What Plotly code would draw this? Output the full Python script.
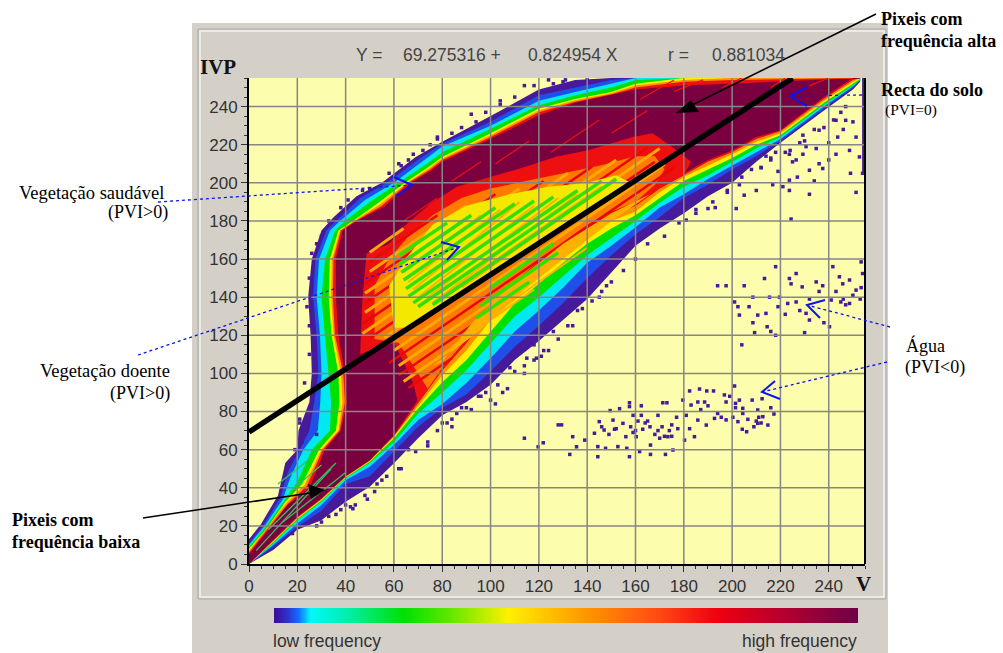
import plotly.graph_objects as go

W, H = 1003, 653
# plot area in window pixels
PL, PR, PT, PB = 249, 865, 78, 564

# ---- tick labels ----
tick_values = [0, 20, 40, 60, 80, 100, 120, 140, 160, 180, 200, 220, 240]

# ---- regression line ----
soil_v = [0, 225]
soil_ivp = [69.275, 254.9]

# ---- contour edges, upper-left side, one entry per anchor row ----
up_purple_v = [0, 5, 12, 15, 20, 20.5, 25, 26, 25.5, 24.5, 26, 30, 35, 44.5, 55, 69, 80, 100, 120, 135, 150, 160, 180, 200, 240, 253]
up_purple_i = [13, 21, 36, 53, 60, 70, 85, 100, 120, 140, 160, 175, 182, 193, 200, 213.6, 221.5, 235, 249, 254, 255, 255, 255, 255, 255, 255]
up_blue_v = [0, 6, 13, 16, 21, 25, 27, 28.7, 28, 26.5, 27.5, 32, 36.5, 46, 57, 71, 80, 100, 120, 135, 150, 160, 180, 200, 240, 253]
up_blue_i = [11, 20.5, 35, 48, 60, 70, 85, 100, 120, 140, 160, 175, 180.5, 192, 200, 213, 220.5, 232, 246, 250, 254, 255, 255, 255, 255, 255]
up_cyan_v = [0, 6.5, 14, 17, 22.5, 28.5, 29.5, 30, 29.4, 28, 29, 33.5, 37.7, 48, 60, 72, 80, 100, 120, 135, 150, 160, 180, 200, 240, 253]
up_cyan_i = [10, 20, 34, 45, 60, 70, 85, 100, 120, 140, 160, 175, 180, 191, 200, 211.5, 219, 230, 243, 247.7, 252, 255, 255, 255, 255, 255]
up_green_v = [0, 7, 14.5, 20, 26, 33.5, 34, 33, 31.4, 30, 31.5, 35.6, 39.7, 50, 62, 73, 80, 100, 120, 135, 150, 160, 180, 200, 240, 253]
up_green_i = [9, 19.5, 33, 43, 60, 70, 85, 100, 120, 140, 160, 175, 180, 190, 200, 209.5, 216, 228.5, 240.7, 246, 250, 254, 255, 255, 255, 255]
up_yellow_v = [0, 7.5, 15, 22, 29, 36, 37.5, 37, 34.2, 33, 33.5, 37, 43, 53, 64.5, 74, 80, 100, 120, 135, 150, 160, 180, 200, 240, 253]
up_yellow_i = [8, 19, 32.5, 42, 60, 70, 85, 100, 120, 140, 160, 175, 180, 189, 200, 208, 213.6, 226, 239, 244, 247.7, 252, 255, 255, 255, 255]
up_orange_v = [0, 7.5, 15.5, 23, 30, 37, 38.7, 38, 35, 34, 34.3, 37.7, 43.5, 54, 65.5, 74.5, 80, 100, 120, 135, 150, 160, 180, 200, 240, 253]
up_orange_i = [7, 18.8, 32, 41.5, 60, 70, 85, 100, 120, 140, 160, 175, 180, 188.5, 200, 207.5, 212.8, 225, 238, 243.3, 247, 251, 254, 255, 255, 255]
up_red_v = [0, 8, 16, 24, 30.5, 37.5, 39.7, 39, 35.6, 34.7, 35, 38, 44, 55, 66, 75, 80, 100, 120, 135, 150, 160, 180, 200, 240, 253]
up_red_i = [6, 18.5, 31.5, 41, 60, 70, 85, 100, 120, 140, 160, 175, 180, 188, 200, 207, 212, 224, 237, 242.5, 246.5, 250, 253, 254, 255, 255]
up_maroon_v = [0, 8, 16, 25, 31.5, 38, 40.5, 39.7, 37, 36, 36, 38.8, 44.5, 56, 67, 75.5, 80, 100, 120, 135, 150, 160, 180, 200, 240, 253]
up_maroon_i = [5, 18, 31, 40, 60, 70, 85, 100, 120, 140, 160, 175, 180, 187.5, 200, 206.5, 211, 223, 235.5, 242, 246, 249, 251, 252, 254, 255]

# ---- contour edges, lower-right side, by V column ----
lo_v = [0, 10, 20, 30, 40, 50, 60, 70, 80, 90, 100, 110, 120, 130, 140, 150, 160, 170, 180, 190, 200, 210, 220, 238, 250, 253]
lo_purple = [0, 7.3, 18, 23, 32.7, 40.5, 52.8, 66, 78, 85, 94, 107, 117, 128, 139, 153, 167, 176, 184, 193, 200, 211, 221, 238, 249, 253]
lo_blue = [0, 9, 19.6, 28, 42, 46, 59, 72, 82, 89, 101, 114, 125, 137, 150, 162, 173, 182, 192, 199, 207, 214, 222, 239, 250, 253.5]
lo_cyan = [0, 10, 21.3, 31, 44, 51, 62.4, 75.5, 84, 95, 108, 122, 133, 145, 158, 167, 176.7, 187, 194, 202, 209, 216, 223, 240, 250.5, 254]
lo_green = [0, 10.8, 23, 32.7, 45, 53, 64, 79, 90, 101.7, 116, 130, 140, 151, 162, 171, 180, 189.5, 198, 204, 211, 218, 224, 241, 251, 254]
lo_yellow = [0, 11.4, 23.6, 33.3, 45.4, 53.6, 66, 81.6, 95.4, 107, 122, 136.7, 147, 158, 168, 176, 183, 192, 201, 207, 213, 220, 225, 242, 252, 254.5]
lo_orange = [0, 11.8, 24, 33.8, 45.7, 54, 66.8, 83, 99, 112, 128, 141, 152, 163, 172, 180, 185, 195, 203, 209, 215, 221.5, 226, 243, 253, 255]
lo_red = [0, 12.2, 24.4, 34.1, 45.9, 54.3, 67.2, 84.5, 101.7, 116, 133, 146, 157, 167, 176, 183, 188, 197, 204, 211, 216, 223, 227, 244, 254, 255]
lo_maroon = [0, 12.6, 24.8, 34.4, 46, 54.5, 67.6, 86, 105, 120, 138, 151, 162, 172, 181, 188, 193, 200, 205, 212, 217, 224, 227.6, 245, 255, 255]

# ---- speckled interior (striped region between the two fronts) ----
core_red_v = [46, 47, 48.7, 58, 64, 75, 86, 100, 113.5, 127, 140, 159, 167, 175, 183, 180, 170, 160, 150, 140, 130, 120, 110, 100, 90, 80, 70, 68, 64, 60, 52]
core_red_i = [110, 140, 163, 168, 177, 189, 198, 203, 208, 213.7, 217, 224, 226, 219, 211, 204, 197, 188, 183, 176, 167, 157, 146, 133, 116, 101.7, 84.5, 95, 106, 116, 113]
core_orange_v = [52, 52, 58, 66, 76, 88, 100, 115, 130, 145, 160, 168, 172, 168, 160, 150, 140, 130, 120, 110, 100, 90, 80, 74, 68, 62]
core_orange_i = [118, 146, 160, 172, 183, 192, 197, 201, 205, 209, 214, 214, 207, 199, 190, 185, 178, 169, 159, 148, 135, 118, 103, 92, 104, 116]
core_yellow_v = [60, 58, 66, 76, 90, 108, 124, 140, 152, 158, 150, 132, 112, 92, 76, 66]
core_yellow_i = [124, 146, 162, 178, 188, 194, 198, 200, 204, 200, 194, 180, 162, 147, 133, 124]
low_yellow_v = [76, 95, 115, 130, 148, 166, 150, 130, 110, 92, 80]
low_yellow_i = [104, 122, 145, 160, 178, 194, 184, 168, 148, 126, 106]

orange_x0 = [50, 50, 48, 48, 47, 56, 60, 62, 64]
orange_y0 = [163.5, 153.5, 142, 132, 121, 118.7, 112, 104, 95.7]
orange_x1 = [64, 90, 112, 132, 152, 170, 172, 108, 92]
orange_y1 = [176, 188, 197, 205, 212, 218, 209.6, 144, 120]

red_x0 = [50, 48, 48, 47, 50, 70, 58, 62, 66]
red_y0 = [158.5, 147, 137, 126, 118.5, 126, 105.5, 99, 92.4]
red_x1 = [78, 102, 122, 142, 165, 168, 176, 100, 84]
red_y1 = [183, 194, 201, 208.5, 218.5, 211, 208, 132, 108]

green_x0 = [62, 62, 63, 64, 65, 66, 68, 70, 76, 100, 96, 94]
green_y0 = [162, 157, 153, 149, 144.5, 140.4, 137, 135, 136, 145, 135.5, 129]
green_x1 = [82, 92, 102, 110, 118, 126, 136, 146, 152, 126, 128, 116]
green_y1 = [179, 183, 187, 189, 190.5, 192.6, 196, 201, 202, 168, 163.4, 148]

amber_x0 = [63, 64, 66, 68, 70, 74, 76, 82, 88, 84, 100, 116]
amber_y0 = [157, 153, 148, 144, 140, 140, 137, 142, 145, 114, 130, 152]
amber_x1 = [88, 96, 104, 112, 118, 128, 136, 146, 150, 118, 140, 158]
amber_y1 = [179, 183, 186, 190, 188, 192, 194, 198, 200, 144, 166, 188]

stray_x0 = [64, 84, 102, 125, 150, 162, 176, 196, 216, 232]
stray_y0 = [180, 201, 210, 216, 226, 244, 248, 250, 250, 251]
stray_x1 = [78, 96, 116, 145, 165, 176, 188, 204, 222, 240]
stray_y1 = [192, 211, 222, 233, 238, 254, 254, 255, 255, 255]

lowline_x0 = [3, 8, 14, 17, 12]
lowline_y0 = [7, 18, 22, 38, 42]
lowline_x1 = [34, 36, 40, 30, 26]
lowline_y1 = [50, 53, 48, 52, 56]

# ---- isolated low-frequency pixels ----
water_low_v = [182.4, 186.5, 189.5, 192.3, 201, 196.8, 199, 197.5, 203, 208.3, 212.4, 216, 210.6, 204.4, 201.4, 201.4, 188.6, 185.8, 183, 179.6,
               173, 171.3, 162.4, 157.5, 157.5, 149.5, 153.4, 159, 162.4, 169.3, 177, 181, 195.5, 200.3, 204.4, 206.5, 210.6, 212.7, 217.3, 214.8,
               204.2, 206, 202.4, 197.5, 192.7, 189.3, 185.8, 182.4, 177.5, 173.4, 169.3, 163, 160.3, 154.8, 150.7, 145, 143, 147, 151.3, 156,
               144.4, 147.6, 152.7, 156.4, 166.2, 175.5, 172.4, 166.2, 157.5, 144.4, 161.7, 180.3, 184.4, 132.8, 121.8, 119.7, 134, 139, 135.6, 114,
               128, 129.4, 164, 166, 168, 171, 174, 175, 158, 160, 161, 152, 149, 146, 187, 190, 194, 172, 170, 165, 159, 210, 212, 211, 209, 175]
water_low_i = [90.8, 91.8, 90.8, 90.8, 93.4, 88.7, 88, 85, 86, 86, 86.7, 82, 80.8, 81.7, 84.3, 82, 85, 85, 83.4, 86,
               84.6, 84.6, 83, 84.6, 82.6, 80.5, 81.5, 78, 78, 78, 77, 78, 77, 77, 79, 75.9, 73.8, 77.3, 78.7, 72.9,
               70.7, 69.4, 74.7, 75.6, 76.4, 72.9, 75.5, 71, 71, 66.8, 70, 70.7, 66.8, 73.8, 75.5, 74.7, 68.6, 70.3, 70.7, 66.8,
               61.6, 60.7, 61.6, 60.7, 62.4, 59.8, 57.5, 57.5, 56.3, 56.3, 59, 65, 66.8, 57.5, 63.6, 61.5, 66.8, 65, 61.5, 66,
               73, 73, 74, 72, 68, 72, 70, 67, 72, 70, 75, 71, 68, 72, 81, 83, 79, 67, 66, 75, 69, 75, 74, 77, 72, 73]
water_up_v = [223.7, 224.4, 229, 226.5, 234.8, 237.5, 241.7, 244.4, 245.8, 248.6, 253.4, 254, 253.4, 245, 248.6, 251.3, 218, 213.4, 205, 197.5,
              208.6, 219.6, 226.5, 215.5, 223, 201, 219, 214, 210.6, 207, 202.4, 203, 230.6, 241, 204, 208.6, 214.5, 216, 230, 238,
              240.3, 232, 209.3, 218, 194, 246, 250, 253, 247, 243, 232, 236, 228, 222]
water_up_i = [149.8, 147, 145.4, 152.4, 148, 146, 156, 150.7, 147, 149, 158.5, 152.4, 145, 137.5, 136.7, 143.7, 156, 149.8, 146, 146,
              140, 140, 137.5, 140, 136.7, 137.5, 135, 131.5, 130.6, 135, 135, 130.6, 131.5, 138.5, 115, 126.6, 124.5, 122, 121.4, 126.6,
              124.5, 128, 121.4, 120, 146, 139, 141, 139, 136, 143, 139, 143, 133, 131]
noise_v = [229.3, 236, 243.7, 251.3, 243, 247, 223.7, 226.5, 229.3, 230.6, 234.8, 236, 240, 243, 248.6, 252.7, 254, 249, 237.5, 232,
           223.7, 225, 221, 216.8, 210, 205, 223.7, 232, 251.3, 201.7, 190, 185, 181, 224.4, 212, 216, 219, 227, 234, 240,
           246, 250, 245, 238, 230, 224, 218, 214, 208, 203, 198, 193, 150, 146, 142, 138, 134, 128, 124, 121,
           118, 114, 111, 108, 105, 103, 100, 96, 92, 88, 84, 80, 107, 102, 114, 119, 84, 78, 74, 69, 63, 57, 53, 49,
           43, 30, 33, 38, 44, 24, 21, 22, 19, 28, 62, 68, 78, 92, 104, 114, 124, 130, 40, 52,
           28, 30, 26, 25, 24, 25, 25, 23, 21, 33, 38, 41, 47, 50, 58, 63, 66, 72, 75, 78, 84, 88, 94, 98, 104, 110, 112, 118, 126, 131, 140,
           98, 95, 90, 86, 82, 74, 66, 62, 55, 48, 42, 36, 28, 18, 110, 115, 122, 118, 126, 132, 136, 145, 148, 155, 160, 165, 172, 178, 185, 192, 198, 204, 212, 216, 222, 228, 234, 242, 247]
noise_i = [225, 227.6, 224, 224, 232.8, 232.8, 215, 212, 215, 219, 218, 210, 212, 215, 217, 213.6, 205, 205, 207.5, 206.6,
           201.4, 211, 198, 199, 196, 193.5, 196, 194, 195, 186.5, 186.5, 184, 180.4, 181, 208, 212, 206, 203, 201, 221,
           228, 232, 237, 229, 222, 217, 216, 214, 207, 199, 195, 187, 148, 143, 138, 134, 125, 118, 112, 109,
           107, 100, 110, 103, 90, 94, 86, 88, 81, 82, 76, 74, 92, 84, 104, 108, 72, 70, 62, 59, 50, 46, 42, 34,
           29, 22, 25, 28.5, 31, 72, 76, 64, 60, 68, 210, 215, 224, 236, 243, 251, 254, 253, 31, 38,
           168, 172, 163, 150, 135, 125, 110, 95, 74, 180, 187, 191, 196, 197, 205, 209, 212, 217, 220, 223, 226, 229, 232, 237, 241, 245, 242, 251, 252, 254, 254,
           90, 88, 82, 79, 74, 64, 60, 50, 44, 36, 30, 26, 20, 16, 101, 108, 112, 115, 122, 125, 133, 140, 146, 154, 160, 168, 172, 179, 186, 190, 196, 203, 208, 213, 216, 221, 228, 233, 240]
edge_column_v = [253.8, 255, 255, 253.8]
edge_column_i = [205, 205, 255, 255]

# ---- colour bar levels ----
bar_levels = list(range(256))

C_BG = "#fdfdae"
C_PANEL = "#d4d0c8"
C_PURPLE = "#471a9c"
C_BLUE = "#1f4fe8"
C_CYAN = "#00e8f0"
C_GREEN = "#00e000"
C_YELLOW = "#ffee00"
C_ORANGE = "#ff9000"
C_RED = "#ee1010"
C_MAROON = "#7a0040"
C_GRID = "#868686"


def xp(px):
    return px / W


def yp(py):
    return 1 - py / H


fig = go.Figure()


def polygon(vs, ivs, color):
    fig.add_trace(go.Scatter(x=vs, y=ivs, mode="lines", fill="toself", fillcolor=color,
                             line=dict(width=0, color=color), hoverinfo="skip", showlegend=False))


def band(up_v, up_i, lo_i, color):
    polygon(list(up_v) + lo_v[::-1], list(up_i) + lo_i[::-1], color)


def segments(x0, y0, x1, y1, color, width):
    xs, ys = [], []
    for a, b, c, d in zip(x0, y0, x1, y1):
        xs += [a, c, None]
        ys += [b, d, None]
    fig.add_trace(go.Scatter(x=xs, y=ys, mode="lines", line=dict(color=color, width=width),
                             hoverinfo="skip", showlegend=False))


band(up_purple_v, up_purple_i, lo_purple, C_PURPLE)
band(up_blue_v, up_blue_i, lo_blue, C_BLUE)
band(up_cyan_v, up_cyan_i, lo_cyan, C_CYAN)
band(up_green_v, up_green_i, lo_green, C_GREEN)
band(up_yellow_v, up_yellow_i, lo_yellow, C_YELLOW)
band(up_orange_v, up_orange_i, lo_orange, C_ORANGE)
band(up_red_v, up_red_i, lo_red, C_RED)
band(up_maroon_v, up_maroon_i, lo_maroon, C_MAROON)
polygon(edge_column_v, edge_column_i, C_PURPLE)

segments(lowline_x0, lowline_y0, lowline_x1, lowline_y1, "#35c060", 1.3)
segments(stray_x0, stray_y0, stray_x1, stray_y1, C_RED, 1.2)

polygon(core_red_v, core_red_i, C_RED)
polygon(core_orange_v, core_orange_i, "#ff7a00")
segments(orange_x0, orange_y0, orange_x1, orange_y1, "#ffa800", 3)
segments(red_x0, red_y0, red_x1, red_y1, "#e80808", 2.5)
polygon(low_yellow_v, low_yellow_i, "#ffb000")
polygon(core_yellow_v, core_yellow_i, "#f4e800")
segments(amber_x0, amber_y0, amber_x1, amber_y1, "#ffb000", 2)
segments(green_x0, green_y0, green_x1, green_y1, "#30e000", 3.5)

fig.add_trace(go.Scatter(x=water_low_v + water_up_v + noise_v, y=water_low_i + water_up_i + noise_i, mode="markers",
                         marker=dict(symbol="square", size=3.5, color=C_PURPLE, line=dict(width=0)),
                         hoverinfo="skip", showlegend=False))

# grid above the density picture
gx, gy = [], []
for t in tick_values[1:]:
    gx += [t, t, None]
    gy += [0, 255, None]
    gx += [0, 255, None]
    gy += [t, t, None]
fig.add_trace(go.Scatter(x=gx, y=gy, mode="lines", line=dict(color=C_GRID, width=1.5),
                         hoverinfo="skip", showlegend=False))

fig.add_trace(go.Scatter(x=soil_v, y=soil_ivp, mode="lines", line=dict(color="#000000", width=5.5),
                         hoverinfo="skip", showlegend=False))

# colour bar
bar_scale = [[0, "#3a10a0"], [0.02, "#3030c8"], [0.04, "#1070ff"], [0.06, "#00f8f8"], [0.12, "#00f0b0"],
             [0.22, "#00e000"], [0.30, "#60e800"], [0.40, "#fff000"], [0.53, "#ff9800"], [0.65, "#ff5010"],
             [0.76, "#ee0010"], [0.88, "#b00030"], [1, "#700048"]]
fig.add_trace(go.Heatmap(z=[bar_levels], colorscale=bar_scale, showscale=False, xaxis="x2", yaxis="y2",
                         hoverinfo="skip", zsmooth="best"))

tick_font = dict(family="Liberation Sans, Arial, sans-serif", size=17, color="#333333")
axis_common = dict(range=[0, 255], tickmode="array", tickvals=tick_values, ticks="outside", ticklen=6, tickwidth=1,
                   tickcolor="#333333", showgrid=False, zeroline=False, showline=True, linecolor="#000000",
                   linewidth=2, tickfont=tick_font, fixedrange=True, automargin=False,
                   minor=dict(tickmode="linear", tick0=0, dtick=5, ticks="outside", ticklen=3, tickwidth=1, tickcolor="#333333", showgrid=False))

shapes = [
    dict(type="rect", xref="paper", yref="paper", x0=xp(192), x1=xp(888), y0=yp(653), y1=yp(23), layer="below",
         fillcolor=C_PANEL, line=dict(width=0)),
    dict(type="rect", xref="paper", yref="paper", x0=xp(200), x1=xp(884), y0=yp(597), y1=yp(31), layer="below",
         fillcolor="rgba(0,0,0,0)", line=dict(color="#f4f2ee", width=1.5)),
    dict(type="rect", xref="paper", yref="paper", x0=xp(198), x1=xp(886), y0=yp(599), y1=yp(29), layer="below",
         fillcolor="rgba(0,0,0,0)", line=dict(color="#a8a8a8", width=1)),
    dict(type="rect", xref="paper", yref="paper", x0=xp(PL), x1=xp(PR), y0=yp(PB), y1=yp(PT), layer="below",
         fillcolor=C_BG, line=dict(width=0)),
    dict(type="line", xref="paper", yref="paper", x0=xp(PR), x1=xp(PR), y0=yp(PB), y1=yp(PT), layer="above",
         line=dict(color="#000000", width=2)),
]


def pline(x0, y0, x1, y1, color, width, dash="solid"):
    shapes.append(dict(type="line", xref="paper", yref="paper", x0=xp(x0), y0=yp(y0), x1=xp(x1), y1=yp(y1),
                       line=dict(color=color, width=width, dash=dash), layer="above"))


def pgon(points, fill=None, color="#000000", width=0):
    d = "M " + " L ".join(f"{xp(a):.5f},{yp(b):.5f}" for a, b in points)
    if fill:
        d += " Z"
    shapes.append(dict(type="path", xref="paper", yref="paper", path=d, layer="above",
                       fillcolor=fill if fill else "rgba(0,0,0,0)", line=dict(color=color, width=width)))


BLUE = "#0a14f0"
pline(876, 14, 684, 109, "#000000", 1.5)
pgon([(676, 113), (691, 100), (699, 112)], fill="#000000")
pline(143, 518, 310, 493, "#000000", 1.5)
pgon([(325, 490), (308, 484), (311, 499)], fill="#000000")
for pts, start in [
    ([(394, 177), (412, 185), (396, 196)], (158, 202)),
    ([(441, 242), (459, 247), (447, 260)], (138, 355)),
    ([(807, 87), (790, 96), (807, 106)], (862, 95)),
    ([(825, 300), (807, 305), (820, 318)], (890, 327)),
    ([(775, 381), (762, 392), (780, 399)], (887, 362)),
]:
    pgon(pts, color=BLUE, width=2)
    pline(start[0], start[1], pts[1][0], pts[1][1], BLUE, 1.3, "dot")

SANS = "Liberation Sans, Arial, sans-serif"
SERIF = "Liberation Serif, Times New Roman, serif"
notes = [
    ("Y =", 354, 55, SANS, 17.5, "#444444", False),
    ("69.275316 +", 401, 55, SANS, 17.5, "#444444", False),
    ("0.824954 X", 526, 55, SANS, 17.5, "#444444", False),
    ("r =", 666, 55, SANS, 17.5, "#444444", False),
    ("0.881034", 710, 55, SANS, 17.5, "#444444", False),
    ("IVP", 198, 67, SERIF, 21, "#111111", True),
    ("V", 854, 584, SERIF, 21, "#111111", True),
    ("low frequency", 271, 641, SANS, 17.5, "#333333", False),
    ("high frequency", 740, 641, SANS, 17.5, "#333333", False),
    ("Pixeis com", 879, 19, SERIF, 18, "#000000", True),
    ("frequência alta", 879, 41, SERIF, 18, "#000000", True),
    ("Recta do solo", 879, 90, SERIF, 18, "#000000", True),
    ("(PVI=0)", 883, 110, SERIF, 15.5, "#000000", False),
    ("Vegetação saudável", 17, 193, SERIF, 18.5, "#000000", False),
    ("(PVI>0)", 106, 212, SERIF, 18, "#000000", False),
    ("Vegetação doente", 38, 371, SERIF, 18.5, "#000000", False),
    ("(PVI>0)", 108, 393, SERIF, 18, "#000000", False),
    ("Água", 904, 345, SERIF, 18, "#000000", False),
    ("(PVI<0)", 903, 367, SERIF, 18, "#000000", False),
    ("Pixeis com", 10, 520, SERIF, 18, "#000000", True),
    ("frequência baixa", 10, 542, SERIF, 18, "#000000", True),
]
annotations = []
for text, x, y, fam, size, color, bold in notes:
    annotations.append(dict(text=f"<b>{text}</b>" if bold else text, xref="paper", yref="paper", x=xp(x), y=yp(y),
                            xanchor="left", yanchor="middle", showarrow=False, align="left",
                            font=dict(family=fam, size=size, color=color)))

fig.update_layout(
    width=W, height=H, margin=dict(l=0, r=0, t=0, b=0), autosize=False,
    paper_bgcolor="#ffffff", plot_bgcolor="rgba(0,0,0,0)", showlegend=False,
    xaxis=dict(domain=[xp(PL), xp(PR)], anchor="y", **axis_common),
    yaxis=dict(domain=[yp(PB), yp(PT)], anchor="x", **axis_common),
    xaxis2=dict(domain=[xp(274), xp(858)], anchor="y2", visible=False, fixedrange=True, automargin=False),
    yaxis2=dict(domain=[yp(623), yp(608)], anchor="x2", visible=False, fixedrange=True, automargin=False),
    shapes=shapes, annotations=annotations,
)

fig.write_html("out.html", config=dict(displayModeBar=False),
               post_script="document.body.style.margin='0';document.documentElement.style.overflow='hidden';")
